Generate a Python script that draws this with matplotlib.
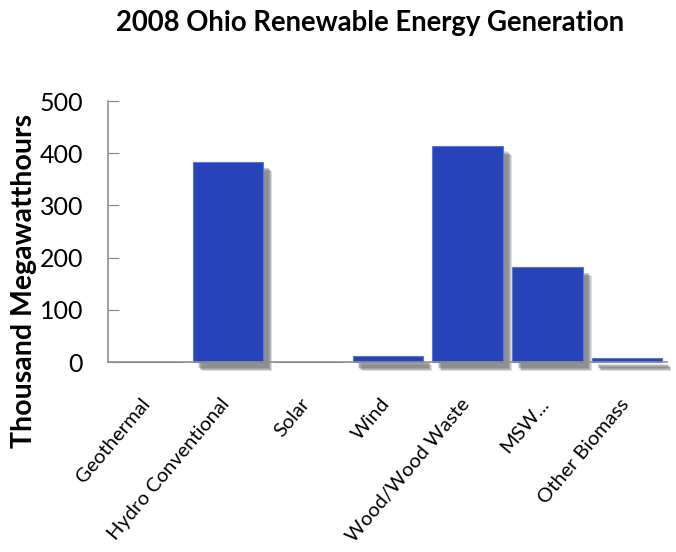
import matplotlib
matplotlib.use("Agg")
from matplotlib import pyplot as plt
import matplotlib.patheffects as pe
import matplotlib.transforms as mtransforms

# 2008 Ohio renewable generation by source
sources = ["Geothermal", "Hydro Conventional", "Solar", "Wind",
           "Wood/Wood Waste", "MSW...", "Other Biomass"]
generation = [0, 383, 0, 12, 414, 182, 7]

plt.rcParams["font.family"] = ["Lato", "DejaVu Sans"]

fig = plt.figure(figsize=(6.76, 5.52), dpi=100)
ax = fig.add_axes([0.16, 0.344, 0.827, 0.473])

# layered offsets give a soft, blurred drop shadow
shadow = [pe.SimplePatchShadow(offset=(d, -d), shadow_rgbFace="#707070",
                               alpha=0.22)
          for d in (6.5, 6, 5.5, 5, 4.5, 4)]
shadow.append(pe.Normal())

bars = ax.bar(range(len(sources)), generation, width=0.88,
              color="#2643b9", edgecolor="#5a78d8", linewidth=0.8,
              clip_on=False, zorder=1)
for b in bars:
    if b.get_height() > 0:
        b.set_path_effects(shadow)

ax.set_xlim(-0.5, len(sources) - 0.5)
ax.set_ylim(0, 500)
ax.set_yticks(range(0, 501, 100))
ax.tick_params(axis="y", direction="in", length=8, color="#808080",
               labelsize=18, pad=18)
ax.tick_params(axis="x", length=0, pad=24)
ax.set_xticks(range(len(sources)))
ax.set_xticklabels(sources, rotation=50, ha="right", rotation_mode="anchor",
                   fontsize=14.5)
shift = mtransforms.ScaledTranslation(-8 / 100, 0, fig.dpi_scale_trans)
for lbl in ax.get_xticklabels():
    lbl.set_transform(lbl.get_transform() + shift)

for side in ("top", "right"):
    ax.spines[side].set_visible(False)
for side in ("left", "bottom"):
    ax.spines[side].set_color("#909090")
    ax.spines[side].set_linewidth(1.2)
    ax.spines[side].set_zorder(3)

fig.text(0.036, 0.491, "Thousand Megawatthours", rotation=90,
         ha="center", va="center", fontsize=20.5, fontweight="bold")
fig.text(0.547, 0.958, "2008 Ohio Renewable Energy Generation",
         ha="center", va="center", fontsize=19.8, fontweight="bold")

fig.savefig("out.png", dpi=100)
